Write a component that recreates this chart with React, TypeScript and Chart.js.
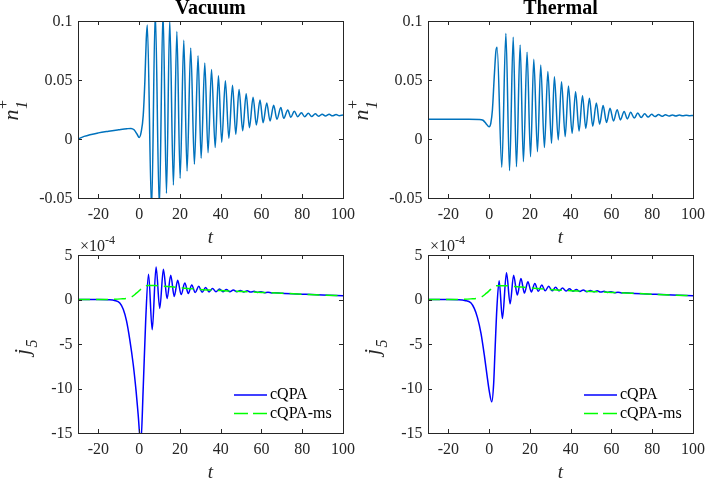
import { useEffect, useRef } from "react";
import { Chart, registerables } from "chart.js";
Chart.register(...registerables);

// ---------- tick labels / text ----------
const X_TICKS = [-20, 0, 20, 40, 60, 80, 100];
const X_TICK_LABELS = ["-20", "0", "20", "40", "60", "80", "100"];
const N_TICKS = [-0.05, 0, 0.05, 0.1];
const N_TICK_LABELS = ["-0.05", "0", "0.05", "0.1"];
const J_TICKS = [-15, -10, -5, 0, 5];
const J_TICK_LABELS = ["-15", "-10", "-5", "0", "5"];
const TITLES = ["Vacuum", "Thermal"];
const LEGEND_LABELS = ["cQPA", "cQPA-ms"];

// ---------- Vacuum, n_1^+ ----------
const vacNT = [-30, -27, -20, -15, -10, -6, -4, -2.5, -1, 0, 1, 2, 2.8, 3.5, 4.0, 6.1, 7.9, 9.9, 11.7, 13.4, 15.0, 16.8, 18.5, 20.1, 21.9, 23.5, 25.3, 27.1, 28.9, 30.4, 32.2, 33.8, 35.5, 37.3, 38.9, 40.5, 42.3, 44.0, 45.8, 47.4, 49.0, 50.8, 52.5, 54.1, 55.9, 57.5, 59.3, 60.8, 62.6, 64.2, 66.0, 67.6, 69.5, 70.9, 72.9, 74.4, 76.1, 77.8, 79.6, 81.2, 83.0, 84.6, 86.4, 88.0, 89.8, 91.4, 93.2, 94.8, 96.6, 98.2, 100];
const vacN = [0, 0.0022, 0.0052, 0.0066, 0.0078, 0.0087, 0.009, 0.0078, 0.004, 0.0013, 0.006, 0.02, 0.049, 0.085, 0.0966, -0.06, 0.108, -0.058, 0.108, -0.046, 0.101, -0.039, 0.091, -0.0333, 0.0836, -0.0271, 0.0771, -0.0215, 0.0705, -0.0164, 0.0644, -0.0116, 0.0589, -0.0073, 0.0535, -0.0028, 0.0493, 0.0006, 0.0456, 0.004, 0.042, 0.007, 0.0384, 0.0096, 0.0353, 0.0119, 0.033, 0.0138, 0.0305, 0.0153, 0.0285, 0.0167, 0.0266, 0.0175, 0.0246, 0.0184, 0.0235, 0.0189, 0.0223, 0.0188, 0.0218, 0.019, 0.0213, 0.0193, 0.021, 0.0195, 0.0209, 0.0196, 0.0207, 0.0197, 0.0203];

// ---------- Thermal, n_1^+ ----------
const thNT = [-30, -10, -5, -3, -1.5, 0, 0.8, 1.6, 2.5, 3.3, 3.9, 6.2, 8.2, 10.0, 11.8, 13.4, 15.2, 16.8, 18.6, 20.3, 21.9, 23.7, 25.3, 27.1, 28.8, 30.6, 32.0, 33.9, 35.5, 37.3, 38.9, 40.7, 42.4, 44.1, 45.8, 47.4, 49.2, 50.8, 52.6, 54.2, 55.9, 57.6, 59.3, 61.0, 62.8, 64.4, 66.2, 67.8, 69.4, 71.2, 72.9, 74.6, 76.3, 78.0, 79.7, 81.4, 83.1, 84.8, 86.5, 88.2, 89.9, 91.6, 93.3, 95.0, 96.7, 98.4, 100];
const thN = [0.0167, 0.0167, 0.0166, 0.0159, 0.013, 0.0104, 0.0133, 0.0246, 0.0528, 0.074, 0.0777, -0.024, 0.0895, -0.0268, 0.0862, -0.0235, 0.0797, -0.0192, 0.0735, -0.015, 0.0675, -0.0107, 0.0627, -0.0073, 0.0571, -0.0037, 0.0528, -0.0008, 0.0486, 0.002, 0.0449, 0.0048, 0.04, 0.0068, 0.0367, 0.009, 0.0345, 0.0108, 0.0305, 0.0125, 0.0283, 0.014, 0.026, 0.0152, 0.0248, 0.0162, 0.0234, 0.017, 0.0226, 0.0177, 0.022, 0.0182, 0.0213, 0.0186, 0.0209, 0.019, 0.0207, 0.0192, 0.0205, 0.0194, 0.0204, 0.0195, 0.0203, 0.0196, 0.0202, 0.0197, 0.0199];

// ---------- Vacuum, j_5 (x 1e-4) ----------
const vacJT = [-30, -20, -15, -12, -9.5, -7.8, -6.2, -4.6, -2.9, -1.5, -0.5, 0.8, 2.0, 3.2, 4.6, 6.4, 8.3, 10.1, 11.9, 13.7, 15.5, 17.2, 18.9, 20.6, 22.4, 24.1, 25.8, 27.5, 29.2, 30.9, 32.6, 34.3, 36.0, 37.7, 39.4, 41.1, 42.8, 44.5, 46.2, 47.9, 49.6, 51.3, 53.0, 54.7, 56.4, 58.1, 59.8, 61.5, 63.2, 64.9, 66.6, 70, 80, 90, 100];
const vacJ = [0, 0, -0.03, -0.12, -0.4, -1.1, -2.4, -4.5, -7.3, -10.3, -12.9, -16.2, -9.9, -2.4, 2.85, -3.4, 3.65, -1.0, 3.4, 0.1, 2.72, 0.35, 2.15, 0.55, 1.85, 0.68, 1.62, 0.78, 1.48, 0.82, 1.35, 0.85, 1.25, 0.87, 1.18, 0.88, 1.12, 0.88, 1.07, 0.87, 1.02, 0.85, 0.97, 0.83, 0.92, 0.8, 0.87, 0.77, 0.82, 0.74, 0.77, 0.71, 0.6, 0.5, 0.43];
const vacMsT = [-30, -15, -12, -9, -6, -3.5, -1.5, 0, 2, 4, 8, 12, 16, 20, 25, 30, 35, 40, 45, 50, 60, 70, 80, 90, 100];
const vacMs = [0, 0, 0.02, 0.07, 0.14, 0.33, 0.68, 0.98, 1.42, 1.57, 1.57, 1.48, 1.42, 1.33, 1.22, 1.12, 1.06, 1.0, 0.95, 0.9, 0.8, 0.7, 0.6, 0.5, 0.42];

// ---------- Thermal, j_5 (x 1e-4) ----------
const thJT = [-30, -20, -15, -12, -9, -7.3, -5.7, -4, -2.4, -1, 0, 1.3, 2.2, 2.8, 3.8, 4.9, 6.5, 8.5, 10.3, 12.0, 13.8, 15.6, 17.3, 19.0, 20.7, 22.4, 24.1, 25.8, 27.5, 29.2, 30.9, 32.6, 34.3, 36.0, 37.7, 39.4, 41.1, 42.8, 44.5, 46.2, 47.9, 49.6, 51.3, 53.0, 54.7, 56.4, 58.1, 59.8, 61.5, 63.2, 64.9, 66.6, 70, 80, 90, 100];
const thJ = [0, 0, -0.03, -0.12, -0.37, -1.0, -2.06, -3.8, -6.2, -8.6, -10.2, -11.5, -9.5, -6.2, -0.94, 2.1, -2.13, 3.0, -0.49, 2.73, 0.5, 2.35, 0.72, 2.0, 0.85, 1.8, 0.92, 1.62, 0.97, 1.5, 0.97, 1.38, 0.97, 1.28, 0.95, 1.2, 0.93, 1.13, 0.9, 1.07, 0.88, 1.02, 0.86, 0.97, 0.83, 0.92, 0.8, 0.87, 0.77, 0.82, 0.74, 0.77, 0.71, 0.6, 0.5, 0.43];
const thMsT = [-30, -15, -12, -9, -6, -3.5, -1.5, 0, 2, 4, 8, 12, 16, 20, 25, 30, 35, 40, 45, 50, 60, 70, 80, 90, 100];
const thMs = [0, 0, 0.02, 0.07, 0.14, 0.33, 0.68, 0.98, 1.4, 1.55, 1.55, 1.46, 1.4, 1.32, 1.21, 1.12, 1.05, 0.99, 0.94, 0.89, 0.8, 0.7, 0.6, 0.5, 0.42];

// ---------- styling ----------
const W = 706;
const H = 479;
const AXIS = "#262626";
const SERIF = '"Liberation Serif", "Times New Roman", serif';
const C_TOP = "#0072BD";
const C_BLUE = "#0000FF";
const C_GREEN = "#00FF00";
const DASH = [12, 6];

type Panel = {
  area: { left: number; top: number; right: number; bottom: number };
  kind: "n" | "j";
  title?: string;
  series: { t: number[]; v: number[]; color: string; dash?: number[]; order: number }[];
};

const PANELS: Panel[] = [
  { area: { left: 78, top: 21, right: 343, bottom: 198 }, kind: "n", title: TITLES[0], series: [{ t: vacNT, v: vacN, color: C_TOP, order: 1 }] },
  { area: { left: 428, top: 21, right: 693, bottom: 198 }, kind: "n", title: TITLES[1], series: [{ t: thNT, v: thN, color: C_TOP, order: 1 }] },
  {
    area: { left: 78, top: 255, right: 343, bottom: 433 }, kind: "j",
    series: [
      { t: vacJT, v: vacJ, color: C_BLUE, order: 2 },
      { t: vacMsT, v: vacMs, color: C_GREEN, dash: DASH, order: 1 },
    ],
  },
  {
    area: { left: 428, top: 255, right: 693, bottom: 433 }, kind: "j",
    series: [
      { t: thJT, v: thJ, color: C_BLUE, order: 2 },
      { t: thMsT, v: thMs, color: C_GREEN, dash: DASH, order: 1 },
    ],
  },
];

function decorPlugin(p: Panel) {
  return {
    id: "decor",
    afterDraw(chart: any) {
      const ctx: CanvasRenderingContext2D = chart.ctx;
      const a = chart.chartArea;
      const xs = chart.scales.x;
      const ys = chart.scales.y;
      const yTicks = p.kind === "n" ? N_TICKS : J_TICKS;
      const yLabels = p.kind === "n" ? N_TICK_LABELS : J_TICK_LABELS;
      ctx.save();
      // box
      ctx.strokeStyle = AXIS;
      ctx.lineWidth = 1;
      ctx.strokeRect(a.left + 0.5, a.top + 0.5, a.right - a.left, a.bottom - a.top);
      // ticks
      ctx.beginPath();
      const TL = 4;
      X_TICKS.forEach((v) => {
        const px = Math.round(xs.getPixelForValue(v)) + 0.5;
        ctx.moveTo(px, a.bottom);
        ctx.lineTo(px, a.bottom - TL);
        ctx.moveTo(px, a.top);
        ctx.lineTo(px, a.top + TL);
      });
      yTicks.forEach((v) => {
        const py = Math.round(ys.getPixelForValue(v)) + 0.5;
        ctx.moveTo(a.left, py);
        ctx.lineTo(a.left + TL, py);
        ctx.moveTo(a.right, py);
        ctx.lineTo(a.right - TL, py);
      });
      ctx.stroke();
      // tick labels
      ctx.fillStyle = AXIS;
      ctx.font = `16px ${SERIF}`;
      ctx.textAlign = "center";
      ctx.textBaseline = "alphabetic";
      X_TICKS.forEach((v, i) => {
        ctx.fillText(X_TICK_LABELS[i], xs.getPixelForValue(v), a.bottom + 21);
      });
      ctx.textAlign = "right";
      ctx.textBaseline = "middle";
      yTicks.forEach((v, i) => {
        ctx.fillText(yLabels[i], a.left - 5.5, ys.getPixelForValue(v) + 0.5);
      });
      // x label
      const cx = (a.left + a.right) / 2;
      ctx.textAlign = "center";
      ctx.textBaseline = "alphabetic";
      ctx.font = `italic 19px ${SERIF}`;
      ctx.fillText("t", cx, a.bottom + 45);
      // title
      if (p.title) {
        ctx.fillStyle = "#000";
        ctx.font = `bold 20px ${SERIF}`;
        ctx.fillText(p.title, cx, a.top - 7);
        ctx.fillStyle = AXIS;
      }
      // y label (rotated)
      const cy = (a.top + a.bottom) / 2;
      ctx.save();
      ctx.textAlign = "left";
      ctx.textBaseline = "alphabetic";
      if (p.kind === "n") {
        ctx.translate(a.left - 60, cy + 11);
        ctx.rotate(-Math.PI / 2);
        ctx.font = `italic 22px ${SERIF}`;
        ctx.fillText("n", 0, 0);
        const w = ctx.measureText("n").width;
        ctx.font = `italic 16px ${SERIF}`;
        ctx.fillText("1", w + 0.5, 9);
        ctx.font = `16px ${SERIF}`;
        ctx.fillText("+", w + 0.5, -10);
      } else {
        ctx.translate(a.left - 49, cy + 11);
        ctx.rotate(-Math.PI / 2);
        ctx.font = `italic 22px ${SERIF}`;
        ctx.fillText("j", 0, 0);
        const w = ctx.measureText("j").width;
        ctx.font = `italic 16px ${SERIF}`;
        ctx.fillText("5", w + 1.5, 8);
      }
      ctx.restore();
      if (p.kind === "j") {
        // exponent
        ctx.textAlign = "left";
        ctx.font = `16px ${SERIF}`;
        const base = "\u00d710";
        ctx.fillText(base, a.left + 2, a.top - 4);
        const bw = ctx.measureText(base).width;
        ctx.font = `12px ${SERIF}`;
        ctx.fillText("-4", a.left + 2 + bw, a.top - 11);
        // legend
        const x0 = a.right - 109;
        const x1 = a.right - 76;
        const rows = [a.bottom - 38, a.bottom - 19.5];
        ctx.lineWidth = 1.5;
        ctx.strokeStyle = C_BLUE;
        ctx.setLineDash([]);
        ctx.beginPath();
        ctx.moveTo(x0, rows[0]);
        ctx.lineTo(x1, rows[0]);
        ctx.stroke();
        ctx.strokeStyle = C_GREEN;
        ctx.setLineDash([14, 5]);
        ctx.beginPath();
        ctx.moveTo(x0, rows[1]);
        ctx.lineTo(x1, rows[1]);
        ctx.stroke();
        ctx.setLineDash([]);
        ctx.fillStyle = "#000";
        ctx.font = `16px ${SERIF}`;
        ctx.textBaseline = "middle";
        ctx.fillText(LEGEND_LABELS[0], a.right - 73, rows[0]);
        ctx.fillText(LEGEND_LABELS[1], a.right - 73, rows[1]);
      }
      ctx.restore();
    },
  };
}

function makeChart(canvas: HTMLCanvasElement, p: Panel) {
  const yMin = p.kind === "n" ? N_TICKS[0] : J_TICKS[0];
  const yMax = p.kind === "n" ? N_TICKS[N_TICKS.length - 1] : J_TICKS[J_TICKS.length - 1];
  return new Chart(canvas, {
    type: "line",
    data: {
      datasets: p.series.map((s) => ({
        data: s.t.map((t, i) => ({ x: t, y: s.v[i] })),
        borderColor: s.color,
        borderWidth: 1.5,
        borderDash: s.dash || [],
        pointRadius: 0,
        fill: false,
        cubicInterpolationMode: "monotone" as const,
        capBezierPoints: false,
        order: s.order,
      })),
    },
    options: {
      responsive: false,
      animation: false,
      events: [],
      layout: {
        padding: {
          left: p.area.left,
          top: p.area.top,
          right: W - p.area.right,
          bottom: H - p.area.bottom,
        },
      },
      plugins: { legend: { display: false }, tooltip: { enabled: false }, title: { display: false } },
      scales: {
        x: { type: "linear", min: -30, max: 100, display: false },
        y: { type: "linear", min: yMin, max: yMax, display: false },
      },
    },
    plugins: [decorPlugin(p)],
  } as any);
}

export default function App() {
  const r0 = useRef<HTMLCanvasElement>(null);
  const r1 = useRef<HTMLCanvasElement>(null);
  const r2 = useRef<HTMLCanvasElement>(null);
  const r3 = useRef<HTMLCanvasElement>(null);
  const refs = [r0, r1, r2, r3];
  useEffect(() => {
    const charts = PANELS.map((p, i) => makeChart(refs[i].current!, p));
    return () => charts.forEach((c) => c.destroy());
  }, []);
  return (
    <div style={{ position: "absolute", left: 0, top: 0, width: W, height: H, background: "#fff", overflow: "hidden" }}>
      {refs.map((r, i) => (
        <canvas key={i} ref={r} width={W} height={H} style={{ position: "absolute", left: 0, top: 0, width: W, height: H }} />
      ))}
    </div>
  );
}
